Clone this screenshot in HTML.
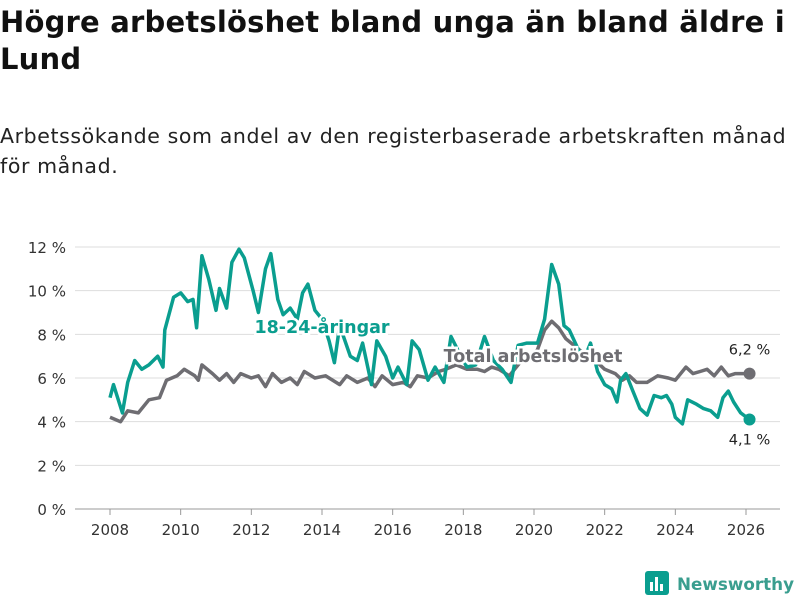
<!DOCTYPE html>
<html><head><meta charset="utf-8">
<style>
body{margin:0;width:800px;height:600px;background:#fff;font-family:"DejaVu Sans",sans-serif;color:#111;overflow:hidden;position:relative}
h1{position:absolute;left:0;top:4px;margin:0;font-size:29px;line-height:37px;font-weight:bold;width:800px;white-space:nowrap;letter-spacing:0.2px}
p{position:absolute;left:0;top:121px;margin:0;font-size:20.5px;line-height:30px;width:800px;color:#222;white-space:nowrap;letter-spacing:0.6px}
svg{position:absolute;left:0;top:0}
</style></head><body>
<h1>Högre arbetslöshet bland unga än bland äldre i<br>Lund</h1>
<p>Arbetssökande som andel av den registerbaserade arbetskraften månad<br>för månad.</p>
<svg id="c" width="800" height="600" font-family="DejaVu Sans, sans-serif"></svg>
<script>
const youthYears=[2008.0,2008.1,2008.35,2008.5,2008.7,2008.9,2009.1,2009.35,2009.5,2009.55,2009.8,2010.0,2010.2,2010.35,2010.45,2010.6,2010.8,2011.0,2011.1,2011.3,2011.45,2011.65,2011.8,2012.05,2012.2,2012.4,2012.55,2012.75,2012.9,2013.1,2013.3,2013.45,2013.6,2013.8,2014.0,2014.2,2014.35,2014.5,2014.8,2015.0,2015.15,2015.4,2015.55,2015.8,2016.0,2016.15,2016.4,2016.55,2016.75,2017.0,2017.2,2017.45,2017.65,2017.9,2018.1,2018.35,2018.6,2018.85,2019.1,2019.35,2019.55,2019.8,2020.1,2020.3,2020.5,2020.7,2020.85,2021.0,2021.2,2021.4,2021.6,2021.8,2022.0,2022.2,2022.35,2022.45,2022.6,2022.8,2023.0,2023.2,2023.4,2023.6,2023.75,2023.9,2024.0,2024.2,2024.35,2024.6,2024.8,2025.0,2025.2,2025.35,2025.5,2025.65,2025.85,2026.1];
const youthValues=[5.1,5.7,4.4,5.8,6.8,6.4,6.6,7.0,6.5,8.2,9.7,9.9,9.5,9.6,8.3,11.6,10.5,9.1,10.1,9.2,11.3,11.9,11.5,10.0,9.0,11.0,11.7,9.6,8.9,9.2,8.7,9.9,10.3,9.1,8.7,7.7,6.7,8.4,7.0,6.8,7.6,5.7,7.7,7.0,6.0,6.5,5.7,7.7,7.3,5.9,6.5,5.8,7.9,7.1,6.5,6.6,7.9,6.8,6.4,5.8,7.5,7.6,7.6,8.7,11.2,10.3,8.4,8.2,7.5,6.8,7.6,6.3,5.7,5.5,4.9,5.9,6.2,5.4,4.6,4.3,5.2,5.1,5.2,4.8,4.2,3.9,5.0,4.8,4.6,4.5,4.2,5.1,5.4,4.9,4.4,4.1];
const totalYears=[2008.0,2008.3,2008.5,2008.8,2009.1,2009.4,2009.6,2009.9,2010.1,2010.4,2010.5,2010.6,2010.9,2011.1,2011.3,2011.5,2011.7,2012.0,2012.2,2012.4,2012.6,2012.85,2013.1,2013.3,2013.5,2013.8,2014.1,2014.5,2014.7,2015.0,2015.3,2015.5,2015.7,2016.0,2016.3,2016.5,2016.7,2017.0,2017.3,2017.5,2017.8,2018.1,2018.4,2018.6,2018.8,2019.0,2019.3,2019.6,2019.9,2020.1,2020.3,2020.5,2020.7,2020.9,2021.2,2021.5,2021.8,2022.0,2022.3,2022.5,2022.7,2022.9,2023.2,2023.5,2023.8,2024.0,2024.3,2024.5,2024.7,2024.9,2025.1,2025.3,2025.5,2025.7,2026.1];
const totalValues=[4.2,4.0,4.5,4.4,5.0,5.1,5.9,6.1,6.4,6.1,5.9,6.6,6.2,5.9,6.2,5.8,6.2,6.0,6.1,5.6,6.2,5.8,6.0,5.7,6.3,6.0,6.1,5.7,6.1,5.8,6.0,5.6,6.1,5.7,5.8,5.6,6.1,6.0,6.3,6.4,6.6,6.4,6.4,6.3,6.5,6.4,6.1,6.7,6.9,7.3,8.2,8.6,8.3,7.8,7.4,7.0,6.7,6.4,6.2,5.9,6.1,5.8,5.8,6.1,6.0,5.9,6.5,6.2,6.3,6.4,6.1,6.5,6.1,6.2,6.2];
const yTicks=[0,2,4,6,8,10,12];
const xTicks=[2008,2010,2012,2014,2016,2018,2020,2022,2024,2026];
const xs=y=>110+(y-2008)*(636/18);
const ys=v=>509-v*(262/12);
const svg=document.getElementById('c');const NS='http://www.w3.org/2000/svg';
function mk(t,a,txt){const e=document.createElementNS(NS,t);for(const k in a)e.setAttribute(k,a[k]);if(txt!=null)e.textContent=txt;svg.appendChild(e);return e;}
yTicks.forEach(v=>{
 const l=mk('line',{x1:75,x2:780,y1:ys(v),y2:ys(v),stroke:v===0?'#999':'#ddd','stroke-width':1});
 
 
 const t=mk('text',{x:66,y:ys(v)+6,'text-anchor':'end','font-size':15,fill:'#333'},v+' %');
 
 
});
xTicks.forEach(y=>{
 const l=mk('line',{x1:xs(y),x2:xs(y),y1:509,y2:515,stroke:'#999'});
 
 
 const t=mk('text',{x:xs(y),y:535,'text-anchor':'middle','font-size':15,fill:'#333'},y);
 
 
});
function pts(X,V){return X.map((x,i)=>xs(x).toFixed(1)+','+ys(V[i]).toFixed(1)).join(' ');}
const tl=mk('polyline',{points:pts(totalYears,totalValues),fill:'none',stroke:'#6e6d72','stroke-width':3.5,'stroke-linejoin':'round'});


const yl=mk('polyline',{points:pts(youthYears,youthValues),fill:'none',stroke:'#0a9e8f','stroke-width':3.5,'stroke-linejoin':'round'});


const n=youthYears.length-1,m=totalYears.length-1;
const d1=mk('circle',{cx:xs(totalYears[m]),cy:ys(totalValues[m]),r:6,fill:'#6e6d72'});


const d2=mk('circle',{cx:xs(youthYears[n]),cy:ys(youthValues[n]),r:6,fill:'#0a9e8f'});


const e1=mk('text',{x:xs(totalYears[m]),y:ys(totalValues[m])-19,'text-anchor':'middle','font-size':14.5,fill:'#222'},String(totalValues[m]).replace('.',',')+' %');


const e2=mk('text',{x:xs(youthYears[n]),y:ys(youthValues[n])+25,'text-anchor':'middle','font-size':14.5,fill:'#222'},String(youthValues[n]).replace('.',',')+' %');


const s1=mk('text',{x:322,y:333,'text-anchor':'middle','font-size':17.5,'font-weight':'bold',fill:'#0a9e8f',stroke:'#fff','stroke-width':5,'paint-order':'stroke'},'18-24-åringar');


const s2=mk('text',{x:533,y:362,'text-anchor':'middle','font-size':17.5,'font-weight':'bold',fill:'#6e6d72',stroke:'#fff','stroke-width':5,'paint-order':'stroke'},'Total arbetslöshet');


</script>
<svg width="800" height="600" style="pointer-events:none">
<rect x="645" y="571" width="24" height="24" rx="3" fill="#0a9e8f"/>
<rect x="650" y="582" width="3" height="9" fill="#fff"/><rect x="655" y="577" width="3" height="14" fill="#fff"/><rect x="660" y="584" width="3" height="7" fill="#fff"/>
<text x="677" y="590" font-size="17" font-weight="bold" fill="#3a9e8f" font-family="DejaVu Sans, sans-serif" textLength="117" lengthAdjust="spacingAndGlyphs">Newsworthy</text>
</svg>
</body></html>
